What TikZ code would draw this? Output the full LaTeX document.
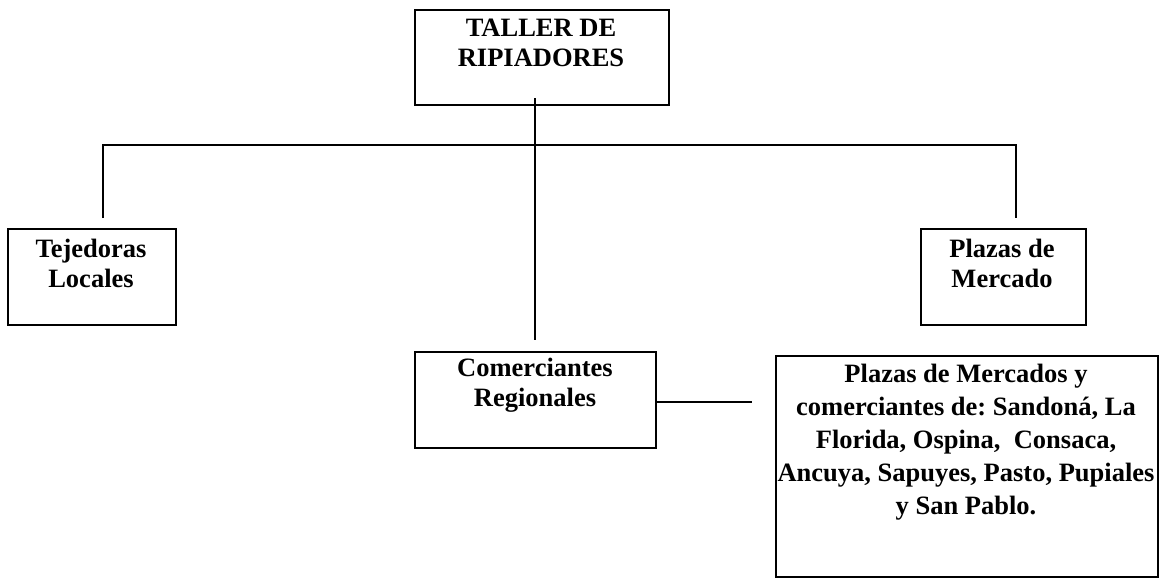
\documentclass[tikz,border=0pt]{standalone}
\usepackage{fontspec}
\setmainfont{Liberation Serif}
\frenchspacing
\begin{document}
\begin{tikzpicture}[x=1pt,y=-1pt,
  box/.style={draw=black,line width=1.8pt,inner sep=0pt,anchor=north west},
  txt/.style={anchor=north,inner sep=0pt,align=center,font=\fontsize{26.5}{30}\selectfont\bfseries},
  conn/.style={draw=black,line width=1.8pt}]
\useasboundingbox (0,0) rectangle (1161,582);
% boxes
\node[box,minimum width=254pt,minimum height=95pt] (top) at (414,9) {};
\node[box,minimum width=168pt,minimum height=96pt] (left) at (7,228) {};
\node[box,minimum width=165pt,minimum height=96pt] (right) at (920,228) {};
\node[box,minimum width=241pt,minimum height=96pt] (mid) at (414,351) {};
\node[box,minimum width=382pt,minimum height=221pt] (big) at (775,355) {};
% texts
\node[txt] (ttop) at (541,19) {TALLER DE\\RIPIADORES};
\node[txt] (tleft) at (91,239) {Tejedoras\\Locales};
\node[txt] (tright) at (1002,239) {Plazas de\\Mercado};
\node[txt] (tmid) at (535,358) {Comerciantes\\Regionales};
\node[txt,font=\fontsize{26.5}{33}\selectfont\bfseries] (tbig) at (966,364)
  {Plazas de Mercados y\\comerciantes de: Sandoná, La\\Florida, Ospina,~ Consaca,\\Ancuya, Sapuyes, Pasto, Pupiales\\y San Pablo.};
% connector coordinates
\coordinate (ctop) at (535,98);
\coordinate (cmid) at (535,340);
\coordinate (cl) at (103,218);
\coordinate (cr) at (1016,218);
\coordinate (hl) at (103,145);
\coordinate (hr) at (1016,145);
\coordinate (ce) at (752,402);
% connectors
\draw[conn] (ctop) -- (cmid);
\draw[conn] (cl) -- (hl) -- (hr) -- (cr);
\draw[conn] (mid.east |- ce) -- (ce);
\end{tikzpicture}
\end{document}
